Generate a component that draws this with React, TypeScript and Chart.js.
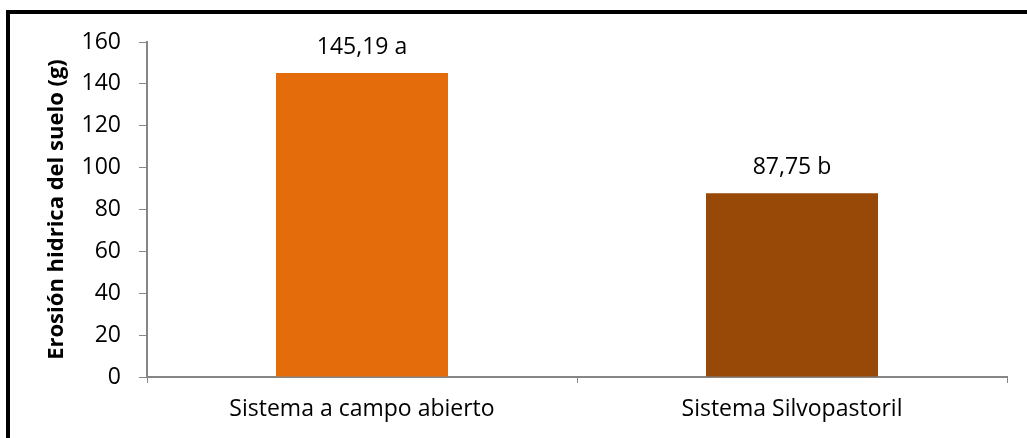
import React, { useEffect, useRef } from "react";
import { Chart, registerables } from "chart.js";

Chart.register(...registerables);

const categories: string[] = ["Sistema a campo abierto", "Sistema Silvopastoril"];
const values: number[] = [145.19, 87.75];
const letters: string[] = ["a", "b"];
const barColors: string[] = ["#E46C0A", "#984807"];
const yTitle = "Erosión hidrica del suelo (g)";
const yMin = 0;
const yMax = 160;
const yStep = 20;

const FONT = "'Open Sans', sans-serif";

const valueLabelPlugin = {
  id: "valueLabels",
  afterDatasetsDraw(chart: any) {
    const ctx = chart.ctx;
    const meta = chart.getDatasetMeta(0);
    ctx.save();
    ctx.font = `23px ${FONT}`;
    ctx.fillStyle = "#000";
    ctx.textAlign = "center";
    ctx.textBaseline = "bottom";
    meta.data.forEach((bar: any, i: number) => {
      const txt = values[i].toFixed(2).replace(".", ",") + " " + letters[i];
      ctx.fillText(txt, bar.x, bar.y - 14);
    });
    ctx.restore();
  },
};

export default function App() {
  const ref = useRef<HTMLCanvasElement | null>(null);
  useEffect(() => {
    document.body.style.margin = "0";
    if (!ref.current) return;
    const chart = new Chart(ref.current, {
      type: "bar",
      data: {
        labels: categories,
        datasets: [
          {
            data: values,
            backgroundColor: barColors,
            borderWidth: 0,
            barPercentage: 0.4,
            categoryPercentage: 1,
          },
        ],
      },
      plugins: [valueLabelPlugin],
      options: {
        responsive: false,
        animation: false,
        layout: { padding: { top: 42, right: 20, left: 0, bottom: 0 } },
        plugins: { legend: { display: false }, tooltip: { enabled: false } },
        scales: {
          x: {
            offset: true,
            grid: {
              offset: true,
              drawOnChartArea: false,
              drawTicks: true,
              tickLength: 6,
              color: "#868686",
            },
            border: { color: "#868686", width: 2 },
            ticks: { color: "#000", font: { family: FONT, size: 23 }, padding: 13 },
            afterFit: (s: any) => {
              s.height = 61;
            },
          },
          y: {
            min: yMin,
            max: yMax,
            ticks: {
              stepSize: yStep,
              color: "#000",
              font: { family: FONT, size: 23 },
              padding: 18,
            },
            grid: {
              drawOnChartArea: false,
              drawTicks: true,
              tickLength: 8,
              color: "#868686",
            },
            border: { color: "#868686", width: 2 },
            title: {
              display: true,
              text: yTitle,
              color: "#000",
              font: { family: FONT, size: 22, weight: "bold" },
              padding: { top: 44, bottom: 0 },
            },
            afterFit: (s: any) => {
              s.width = 147;
            },
          },
        },
      },
    });
    return () => chart.destroy();
  }, []);
  return (
    <div style={{ position: "relative", width: 1027, height: 438, overflow: "hidden", background: "#fff" }}>
      <div
        style={{
          position: "absolute",
          left: 6,
          top: 10,
          width: 1100,
          height: 500,
          borderLeft: "4px solid #000",
          borderTop: "4px solid #000",
        }}
      />
      <canvas ref={ref} width={1027} height={438} style={{ position: "absolute", left: 0, top: 0 }} />
    </div>
  );
}
